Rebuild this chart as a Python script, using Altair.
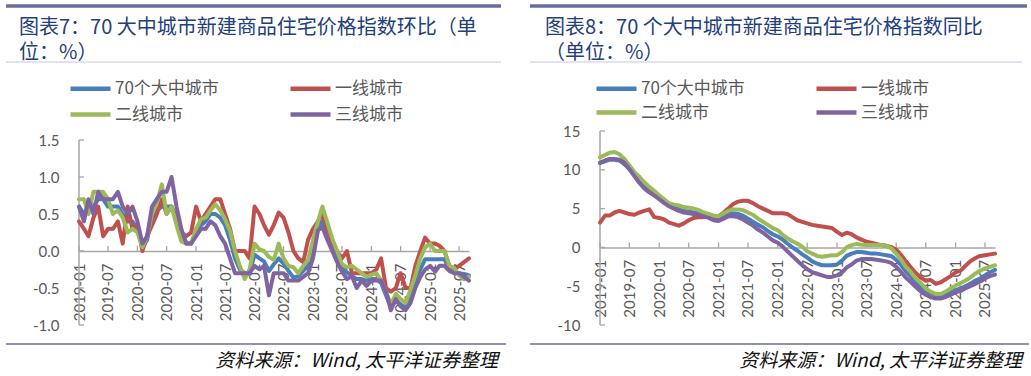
import altair as alt
import pandas as pd

# ---------------- data ----------------
months = pd.date_range("2019-01-01", "2025-09-01", freq="MS").strftime("%Y-%m-%d").tolist()

series_names = ["70个大中城市", "一线城市", "二线城市", "三线城市"]
series_colors = ["#4A7EBB", "#C0504D", "#9BBB59", "#8064A2"]

# 环比 (MoM, %)
mom_70 = [0.6, 0.5, 0.6, 0.6, 0.7, 0.7, 0.6, 0.6, 0.6, 0.5,
          0.4, 0.4, 0.3, 0.05, 0.15, 0.45, 0.55, 0.6, 0.6, 0.6,
          0.45, 0.25, 0.1, 0.1, 0.25, 0.35, 0.4, 0.5, 0.5, 0.45,
          0.35, 0.15, -0.1, -0.25, -0.3, -0.3, -0.05, -0.1, -0.14, -0.27,
          -0.18, -0.1, -0.17, -0.27, -0.36, -0.34, -0.27, -0.2, 0.05, 0.3,
          0.4, 0.25, 0.09, -0.09, -0.22, -0.29, -0.34, -0.38, -0.38, -0.4,
          -0.38, -0.38, -0.43, -0.6, -0.75, -0.68, -0.72, -0.77, -0.56, -0.38,
          -0.25, -0.11, -0.11, -0.11, -0.11, -0.11, -0.25, -0.29, -0.3, -0.31,
          -0.33]
mom_t1 = [0.4, 0.3, 0.2, 0.45, 0.6, 0.2, 0.3, 0.3, 0.4, 0.1,
          0.6, 0.3, 0.35, 0.0, 0.2, 0.35, 0.5, 0.7, 0.5, 0.6,
          0.4, 0.25, 0.2, 0.25, 0.6, 0.4, 0.5, 0.6, 0.7, 0.7,
          0.5, 0.3, 0.0, 0.0, 0.0, -0.1, 0.6, 0.5, 0.35, 0.22,
          0.35, 0.52, 0.45, 0.25, 0.0, -0.1, -0.15, 0.15, 0.3, 0.4,
          0.5, 0.3, 0.1, 0.0, -0.1, 0.0, -0.3, -0.3, -0.3, -0.3,
          -0.3, -0.25, -0.1, -0.5, -0.55, -0.5, -0.3, -0.5, -0.5, -0.2,
          0.0, 0.18, 0.1, 0.1, 0.07, 0.0, -0.2, -0.25, -0.2, -0.15,
          -0.1]
mom_t2 = [0.7, 0.7, 0.5, 0.8, 0.8, 0.8, 0.7, 0.5, 0.55, 0.45,
          0.25, 0.3, 0.25, 0.05, 0.2, 0.5, 0.65, 0.9, 0.5, 0.6,
          0.35, 0.13, 0.1, 0.1, 0.3, 0.43, 0.45, 0.55, 0.63, 0.55,
          0.43, 0.27, 0.0, -0.2, -0.38, -0.25, 0.1, 0.02, 0.0, -0.08,
          -0.12, 0.1, -0.1, -0.2, -0.22, -0.3, -0.2, -0.12, 0.15, 0.4,
          0.6, 0.38, 0.17, 0.0, -0.18, -0.22, -0.2, -0.25, -0.3, -0.35,
          -0.32, -0.3, -0.4, -0.55, -0.72, -0.58, -0.65, -0.7, -0.52, -0.33,
          -0.1, 0.05, 0.1, 0.0, 0.0, 0.0, -0.2, -0.23, -0.33, -0.38,
          -0.35]
mom_t3 = [0.6, 0.4, 0.7, 0.5, 0.8, 0.7, 0.7, 0.7, 0.8, 0.6,
          0.5, 0.6, 0.4, 0.1, 0.2, 0.6, 0.7, 0.8, 0.8, 1.0,
          0.6, 0.3, 0.1, 0.1, 0.2, 0.3, 0.3, 0.4, 0.35, 0.2,
          0.1, -0.1, -0.3, -0.3, -0.3, -0.3, -0.2, -0.25, -0.2, -0.6,
          -0.3, -0.3, -0.3, -0.4, -0.4, -0.4, -0.35, -0.3, -0.1, 0.28,
          0.32, 0.15, 0.0, -0.15, -0.28, -0.38, -0.34, -0.5, -0.4, -0.47,
          -0.4, -0.4, -0.4, -0.55, -0.8, -0.65, -0.75, -0.8, -0.7, -0.5,
          -0.35, -0.25, -0.2, -0.28, -0.2, -0.2, -0.27, -0.3, -0.3, -0.35,
          -0.4]

# 同比 (YoY, %)
yoy_70 = [10.9, 11.1, 11.3, 11.3, 11.2, 10.7, 10.1, 9.3, 8.5, 7.9,
          7.3, 6.8, 6.4, 6.0, 5.6, 5.2, 4.9, 4.7, 4.6, 4.5,
          4.4, 4.2, 4.0, 3.8, 3.8, 4.1, 4.3, 4.4, 4.3, 4.1,
          3.7, 3.3, 2.9, 2.6, 2.1, 1.7, 1.4, 1.0, 0.5, 0.0,
          -0.4, -0.9, -1.3, -1.8, -2.1, -2.3, -2.3, -2.3, -2.2, -1.7,
          -1.1, -0.8, -0.6, -0.6, -0.7, -0.8, -0.8, -0.9, -1.0, -1.1,
          -1.6, -2.3, -3.1, -3.8, -4.5, -5.1, -5.6, -5.9, -6.2, -6.3,
          -6.1, -5.8, -5.5, -5.3, -5.0, -4.7, -4.3, -4.0, -3.6, -3.2,
          -2.9]
yoy_t1 = [3.2, 4.1, 4.1, 4.5, 4.7, 4.5, 4.3, 4.2, 4.5, 4.7,
          4.9, 3.9, 3.8, 3.6, 3.2, 3.0, 2.8, 3.1, 3.5, 3.8,
          3.9, 3.9, 4.0, 4.0, 4.0, 4.5, 5.0, 5.6, 5.9, 6.0,
          6.0, 5.7, 5.3, 5.0, 4.7, 4.4, 4.4, 4.4, 4.3, 3.9,
          3.5, 3.3, 3.1, 2.9, 2.8, 2.7, 2.6, 2.5, 2.0, 1.6,
          1.9, 1.7, 1.3, 1.0, 0.75, 0.6, 0.45, 0.3, 0.2, 0.05,
          -0.3, -1.0, -1.8, -2.6, -3.3, -3.9, -4.3, -4.2, -4.7, -4.5,
          -4.1, -3.7, -3.2, -3.0, -2.4, -1.8, -1.4, -1.1, -1.0, -0.9,
          -0.8]
yoy_t2 = [11.6, 11.9, 12.2, 12.3, 12.0, 11.4, 10.6, 9.7, 9.1, 8.4,
          7.8, 7.3, 6.7, 6.2, 5.7, 5.5, 5.4, 5.2, 5.1, 5.0,
          4.8, 4.5, 4.3, 4.1, 4.0, 4.4, 4.7, 4.9, 4.9, 4.8,
          4.5, 4.2, 3.7, 3.3, 2.9, 2.5, 2.2, 1.6, 1.2, 0.8,
          0.5, 0.1, -0.5, -0.8, -1.1, -1.2, -1.1, -1.0, -1.0, -0.6,
          0.0, 0.3, 0.45, 0.35, 0.3, 0.3, 0.3, 0.3, 0.2, -0.1,
          -0.8, -1.6, -2.5, -3.2, -4.0, -4.6, -5.3, -5.7, -6.0, -6.0,
          -5.7, -5.3, -4.9, -4.6, -4.3, -3.9, -3.4, -3.0, -2.7, -2.5,
          -2.3]
yoy_t3 = [10.9, 11.2, 11.4, 11.4, 11.3, 10.9, 10.1, 9.2, 8.3, 7.6,
          7.1, 6.7, 6.2, 5.7, 5.3, 5.0, 4.7, 4.5, 4.4, 4.3,
          4.2, 4.0, 3.8, 3.5, 3.4, 3.7, 4.0, 4.0, 3.9, 3.6,
          3.2, 2.8, 2.3, 1.9, 1.4, 0.9, 0.6, 0.1, -0.5, -1.1,
          -1.7, -2.3, -2.8, -3.2, -3.4, -3.6, -3.8, -3.8, -3.6, -3.2,
          -2.6, -2.2, -1.7, -1.5, -1.5, -1.5, -1.6, -1.7, -1.8, -2.0,
          -2.5, -3.2, -3.9, -4.5, -5.1, -5.7, -6.1, -6.4, -6.6, -6.6,
          -6.4, -6.1, -5.8, -5.6, -5.3, -5.0, -4.7, -4.4, -4.0, -3.7,
          -3.5]

for arr in (mom_70, mom_t1, mom_t2, mom_t3, yoy_70, yoy_t1, yoy_t2, yoy_t3):
    assert len(arr) == len(months), len(arr)

tick_labels = ["2019-01", "2019-07", "2020-01", "2020-07", "2021-01", "2021-07", "2022-01",
               "2022-07", "2023-01", "2023-07", "2024-01", "2024-07", "2025-01", "2025-07"]
mom_yticks = [-1.0, -0.5, 0.0, 0.5, 1.0, 1.5]
yoy_yticks = [-10, -5, 0, 5, 10, 15]

title_left = ["图表7：70 大中城市新建商品住宅价格指数环比（单", "位：%）"]
title_right = ["图表8：70 个大中城市新建商品住宅价格指数同比", "（单位：%）"]
source_text = "资料来源：Wind, 太平洋证券整理"

# ---------------- style ----------------
AX = "#A6A6A6"
LBL = "#595959"
RULE = "#6B6CA3"
TITLE_C = "#24407A"
CJK = "Noto Sans CJK SC"
NUM = "Lato"
PH = 194  # common plot height (both panels start at the same top)


def long_df(vals_list):
    rows = []
    for name, vals in zip(series_names, vals_list):
        for d, v in zip(months, vals):
            rows.append({"date": d, "series": name, "value": v})
    return pd.DataFrame(rows)


def dt(s):
    y, m = s.split("-")
    return alt.DateTime(year=int(y), month=int(m), date=1, utc=True)


one = pd.DataFrame({"k": [0]})


def panel(df, W, ymin, ymax_axis, ymax_scale, yticks, fmt, tick_h, titles, tx, legxy, rowpad,
          top_rule, divider, bottom_rule, src_xy):
    H = PH
    zero_off = H * (0 - ymin) / (ymax_scale - ymin)
    x_enc = alt.X(
        "date:T",
        scale=alt.Scale(type="utc", domain=[dt("2019-01"), dt("2025-09")]),
        axis=alt.Axis(values=[dt(t) for t in tick_labels],
                      labelExpr="utcFormat(datum.value, '%Y-%m')",
                      labelAngle=270, offset=-zero_off, ticks=False,
                      domainColor=AX, domainWidth=1.5, labelFontSize=15,
                      labelColor=LBL, labelFont=NUM, labelPadding=12,
                      labelFlush=False, labelOverlap=False, grid=False, title=None),
    )
    y_enc = alt.Y(
        "value:Q",
        scale=alt.Scale(domain=[ymin, ymax_scale], nice=False, zero=False),
        axis=alt.Axis(values=yticks,
                      labelExpr=f"datum.value < 0 ? '-' + format(-datum.value, '{fmt}') : format(datum.value, '{fmt}')",
                      ticks=False, domain=False, labelFontSize=15,
                      labelColor=LBL, labelFont=NUM, labelPadding=20, grid=False, title=None),
    )
    color_enc = alt.Color(
        "series:N",
        scale=alt.Scale(domain=series_names, range=series_colors),
        legend=alt.Legend(orient="none", legendX=legxy[0], legendY=legxy[1], columns=2,
                          direction="horizontal",
                          symbolType="M-4,0L4,0", symbolSize=100, symbolStrokeWidth=4.5,
                          labelFontSize=17, labelColor=LBL, labelFont=CJK,
                          columnPadding=62, rowPadding=rowpad, labelOffset=16, padding=0,
                          title=None),
    )
    layers = []
    # y axis line and inward ticks
    ya = pd.DataFrame({"value": [ymin], "value2": [ymax_axis]})
    layers.append(alt.Chart(ya).mark_rule(color=AX, strokeWidth=1.5).encode(
        y=y_enc, y2=alt.Y2("value2"), x=alt.value(0)))
    xt = pd.DataFrame({"date": [t + "-01" for t in tick_labels], "value": [0.0] * len(tick_labels),
                       "value2": [tick_h] * len(tick_labels)})
    layers.append(alt.Chart(xt).mark_rule(color=AX, strokeWidth=1.3).encode(
        x=x_enc, y=y_enc, y2=alt.Y2("value2")))
    yt = pd.DataFrame({"value": yticks})
    layers.append(alt.Chart(yt).mark_rule(color=AX, strokeWidth=1.3).encode(
        y=y_enc, x=alt.value(0), x2=alt.value(5)))
    for name in series_names:
        layers.append(
            alt.Chart(df).transform_filter(alt.datum.series == name)
            .mark_line(strokeWidth=4, strokeJoin="round", strokeCap="round")
            .encode(x=x_enc, y=y_enc, color=color_enc)
        )
    # header / footer decoration
    layers.append(alt.Chart(one).mark_rule(color=RULE, strokeWidth=3.5).encode(
        x=alt.value(top_rule[0]), x2=alt.value(top_rule[1]), y=alt.value(top_rule[2])))
    layers.append(alt.Chart(one).mark_rule(color="#C8C8DE", strokeWidth=1).encode(
        x=alt.value(divider[0]), x2=alt.value(divider[1]), y=alt.value(divider[2])))
    layers.append(alt.Chart(one).mark_rule(color=RULE, strokeWidth=1.5).encode(
        x=alt.value(bottom_rule[0]), x2=alt.value(bottom_rule[1]), y=alt.value(bottom_rule[2])))
    for i, line in enumerate(titles):
        layers.append(alt.Chart(one).mark_text(
            align="left", baseline="middle", fontSize=20, font=CJK, color=TITLE_C).encode(
            x=alt.value(tx[0]), y=alt.value(tx[1] + 25 * i), text=alt.value(line)))
    layers.append(alt.Chart(one).mark_text(
        align="right", baseline="middle", fontSize=19, font=CJK, fontStyle="italic",
        color="#111111").encode(x=alt.value(src_xy[0]), y=alt.value(src_xy[1]),
                                text=alt.value(source_text)))
    return alt.layer(*layers).properties(width=W, height=H)


TOP = 132  # absolute y of the plot-area top
left = panel(long_df([mom_70, mom_t1, mom_t2, mom_t3]), 390, -1.0, 1.5, -1.0 + PH / 74.0,
             mom_yticks, ".1f", 0.068, title_left, (-60, 29 - TOP), (3, 81 - TOP), 7,
             (-73, 422, 7 - TOP), (-73, 422, 63 - TOP), (-73, 427, 345 - TOP), (419, 362 - TOP))
right = panel(long_df([yoy_70, yoy_t1, yoy_t2, yoy_t3]), 395, -10, 15, 15, yoy_yticks, "d",
              0.64, title_right, (-55, 29 - TOP), (8, 81 - TOP), 5,
              (-70, 427, 7 - TOP), (-70, 422, 63 - TOP), (-70, 429, 345 - TOP), (422, 362 - TOP))

chart = (
    alt.hconcat(left, right, spacing=21)
    .resolve_scale(color="independent", x="independent", y="independent")
    .properties(padding={"left": 4, "top": 4, "right": 0, "bottom": 0})
    .configure_view(stroke=None)
)

chart.save("out.html", embed_options={"renderer": "svg", "actions": False})
